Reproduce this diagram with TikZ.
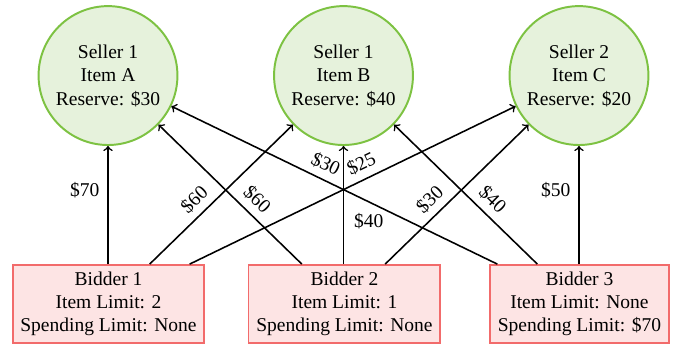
\documentclass[tikz,border=0pt]{standalone}
\usepackage{fontspec}
\setmainfont{Liberation Serif}
\definecolor{sellerfill}{HTML}{E6F2DC}
\definecolor{sellerline}{HTML}{7DC242}
\definecolor{bidderfill}{HTML}{FDE4E4}
\definecolor{bidderline}{HTML}{F26B6B}
\begin{document}
\begin{tikzpicture}[
  seller/.style={draw=sellerline, fill=sellerfill, line width=1pt, circle, minimum size=2.5cm, align=center, inner sep=0pt},
  bidder/.style={draw=bidderline, fill=bidderfill, line width=1pt, rectangle, minimum height=1.37cm, inner xsep=4pt, align=center},
  bid/.style={->, line width=0.8pt},
  lbl/.style={sloped, above, inner sep=3.5pt}]
\useasboundingbox (0,0) rectangle (12.15,-6.28);
\node[seller] (sa) at (1.944,-1.36) {Seller 1\\Item A\\Reserve: \$30};
\node[seller] (sb) at (6.183,-1.36) {Seller 1\\Item B\\Reserve: \$40};
\node[seller] (sc) at (10.422,-1.36) {Seller 2\\Item C\\Reserve: \$20};
\node[bidder] (ba) at (1.953,-5.47) {Bidder 1\\Item Limit: 2\\Spending Limit: None};
\node[bidder] (bb) at (6.2,-5.47) {Bidder 2\\Item Limit: 1\\Spending Limit: None};
\node[bidder] (bc) at (10.43,-5.47) {Bidder 3\\Item Limit: None\\Spending Limit: \$70};
% bidder 1
\draw[bid] (ba.north -| sa) -- node[pos=0.63, left, inner sep=4pt] {\$70} (sa);
\draw[bid] ([xshift=0.75cm]ba.north -| sa) -- node[lbl, pos=0.385] {\$60} (sb);
\draw[bid] ([xshift=1.47cm]ba.north -| sa) -- node[lbl, pos=0.547] {\$25} (sc);
% bidder 2
\draw[bid] ([xshift=-0.75cm]bb.north -| sb) -- node[lbl, pos=0.385] {\$60} (sa);
\draw[bid] (bb.north -| sb) -- node[pos=0.36, right, inner sep=5pt] {\$40} (sb);
\draw[bid] ([xshift=0.75cm]bb.north -| sb) -- node[lbl, pos=0.385] {\$30} (sc);
% bidder 3
\draw[bid] ([xshift=-1.47cm]bc.north -| sc) -- node[lbl, pos=0.547] {\$30} (sa);
\draw[bid] ([xshift=-0.75cm]bc.north -| sc) -- node[lbl, pos=0.385] {\$40} (sb);
\draw[bid] (bc.north -| sc) -- node[pos=0.63, left, inner sep=4pt] {\$50} (sc);
\end{tikzpicture}
\end{document}
